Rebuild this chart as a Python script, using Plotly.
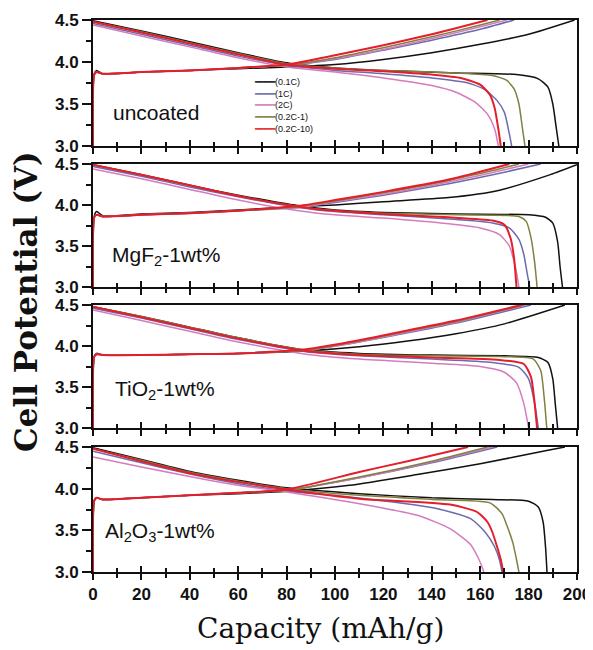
import plotly.graph_objects as go

# ---------------- series meta ----------------
SERIES = ["(0.1C)", "(1C)", "(2C)", "(0.2C-1)", "(0.2C-10)"]
COLORS = ["#111111", "#6b6bb0", "#d47cbc", "#808040", "#e41e2b"]
WIDTHS = [1.5, 1.5, 1.5, 1.5, 2.0]
PANEL_LABELS = ["uncoated", "MgF<sub>2</sub>-1wt%", "TiO<sub>2</sub>-1wt%",
                "Al<sub>2</sub>O<sub>3</sub>-1wt%"]
X_TICKS = [0, 20, 40, 60, 80, 100, 120, 140, 160, 180, 200]
Y_TICKS = [3.0, 3.5, 4.0, 4.5]

# ---------------- uncoated ----------------
UNC_C01_DIS_X = [0, 20, 40, 60, 80, 100, 120, 150, 175, 184, 188, 190, 191.5, 192.5]
UNC_C01_DIS_Y = [4.49, 4.37, 4.24, 4.11, 3.99, 3.93, 3.90, 3.87, 3.85, 3.80, 3.70, 3.50, 3.20, 3.00]
UNC_1C_DIS_X = [0, 20, 40, 60, 80, 100, 120, 140, 155, 162, 167, 170, 172, 173]
UNC_1C_DIS_Y = [4.46, 4.33, 4.20, 4.07, 3.96, 3.90, 3.86, 3.81, 3.75, 3.67, 3.54, 3.40, 3.15, 3.00]
UNC_2C_DIS_X = [0, 20, 40, 60, 80, 100, 120, 140, 150, 158, 163, 166, 167.5]
UNC_2C_DIS_Y = [4.44, 4.31, 4.18, 4.05, 3.94, 3.88, 3.81, 3.72, 3.64, 3.52, 3.38, 3.20, 3.00]
UNC_C21_DIS_X = [0, 20, 40, 60, 80, 100, 120, 150, 165, 171, 174, 176, 177.5, 178.5]
UNC_C21_DIS_Y = [4.48, 4.36, 4.23, 4.10, 3.98, 3.93, 3.90, 3.87, 3.84, 3.78, 3.68, 3.50, 3.20, 3.00]
UNC_C210_DIS_X = [0, 20, 40, 60, 80, 100, 120, 140, 152, 160, 164, 166, 167.5, 168.5]
UNC_C210_DIS_Y = [4.48, 4.35, 4.22, 4.09, 3.97, 3.92, 3.89, 3.85, 3.81, 3.73, 3.61, 3.45, 3.20, 3.00]

UNC_C01_CHG_X = [0, 0.5, 1.5, 4, 20, 40, 60, 80, 100, 120, 140, 160, 180, 199]
UNC_C01_CHG_Y = [3.00, 3.86, 3.90, 3.86, 3.88, 3.90, 3.92, 3.94, 3.97, 4.03, 4.11, 4.21, 4.33, 4.50]
UNC_1C_CHG_X = [0, 0.5, 1.5, 4, 20, 40, 60, 80, 100, 120, 140, 160, 174]
UNC_1C_CHG_Y = [3.00, 3.85, 3.88, 3.86, 3.88, 3.90, 3.93, 3.96, 4.03, 4.14, 4.26, 4.39, 4.50]
UNC_2C_CHG_X = [0, 0.5, 1.5, 4, 20, 40, 60, 80, 100, 120, 140, 160, 171]
UNC_2C_CHG_Y = [3.00, 3.85, 3.88, 3.86, 3.88, 3.90, 3.93, 3.96, 4.04, 4.15, 4.28, 4.42, 4.50]
UNC_C21_CHG_X = [0, 0.5, 1.5, 4, 20, 40, 60, 80, 100, 120, 140, 160, 168]
UNC_C21_CHG_Y = [3.00, 3.85, 3.88, 3.86, 3.88, 3.90, 3.93, 3.96, 4.05, 4.17, 4.30, 4.44, 4.50]
UNC_C210_CHG_X = [0, 0.5, 1.5, 4, 20, 40, 60, 80, 100, 120, 140, 163]
UNC_C210_CHG_Y = [3.00, 3.85, 3.88, 3.86, 3.88, 3.90, 3.93, 3.97, 4.08, 4.20, 4.33, 4.50]

# ---------------- MgF2 ----------------
MGF_C01_DIS_X = [0, 20, 40, 60, 85, 100, 120, 150, 180, 187, 190, 192, 193, 194]
MGF_C01_DIS_Y = [4.49, 4.37, 4.24, 4.12, 3.99, 3.94, 3.91, 3.89, 3.88, 3.85, 3.78, 3.55, 3.25, 3.00]
MGF_1C_DIS_X = [0, 20, 40, 60, 85, 100, 120, 147, 165, 172, 176, 178, 179.5, 180.5]
MGF_1C_DIS_Y = [4.47, 4.35, 4.22, 4.10, 3.97, 3.92, 3.88, 3.83, 3.78, 3.72, 3.58, 3.40, 3.15, 3.00]
MGF_2C_DIS_X = [0, 20, 40, 60, 85, 100, 120, 147, 160, 168, 172, 174.5, 176]
MGF_2C_DIS_Y = [4.44, 4.32, 4.19, 4.06, 3.93, 3.88, 3.84, 3.77, 3.72, 3.64, 3.50, 3.25, 3.00]
MGF_C21_DIS_X = [0, 20, 40, 60, 85, 100, 120, 150, 176, 179, 181, 182.5, 183.5]
MGF_C21_DIS_Y = [4.49, 4.37, 4.24, 4.11, 3.98, 3.93, 3.90, 3.88, 3.86, 3.80, 3.60, 3.30, 3.00]
MGF_C210_DIS_X = [0, 20, 40, 60, 85, 100, 120, 147, 165, 170, 172.5, 174, 175]
MGF_C210_DIS_Y = [4.49, 4.37, 4.24, 4.11, 3.98, 3.93, 3.89, 3.85, 3.81, 3.76, 3.60, 3.35, 3.00]

MGF_C01_CHG_X = [0, 0.5, 1.5, 4, 20, 40, 60, 85, 100, 120, 147, 168, 189, 200]
MGF_C01_CHG_Y = [3.00, 3.86, 3.92, 3.87, 3.89, 3.91, 3.94, 3.98, 4.00, 4.04, 4.09, 4.18, 4.37, 4.49]
MGF_1C_CHG_X = [0, 0.5, 1.5, 4, 20, 40, 60, 85, 100, 120, 147, 170, 185]
MGF_1C_CHG_Y = [3.00, 3.85, 3.88, 3.86, 3.88, 3.90, 3.93, 3.97, 4.03, 4.12, 4.26, 4.40, 4.50]
MGF_2C_CHG_X = [0, 0.5, 1.5, 4, 20, 40, 60, 85, 100, 120, 147, 170, 180]
MGF_2C_CHG_Y = [3.00, 3.85, 3.88, 3.86, 3.88, 3.90, 3.93, 3.97, 4.04, 4.13, 4.28, 4.43, 4.50]
MGF_C21_CHG_X = [0, 0.5, 1.5, 4, 20, 40, 60, 85, 100, 120, 147, 165, 176]
MGF_C21_CHG_Y = [3.00, 3.85, 3.88, 3.86, 3.88, 3.90, 3.93, 3.98, 4.05, 4.15, 4.30, 4.42, 4.50]
MGF_C210_CHG_X = [0, 0.5, 1.5, 4, 20, 40, 60, 85, 100, 120, 147, 172]
MGF_C210_CHG_Y = [3.00, 3.85, 3.88, 3.86, 3.88, 3.90, 3.93, 3.99, 4.06, 4.16, 4.31, 4.50]

# ---------------- TiO2 ----------------
TIO_C01_DIS_X = [0, 20, 40, 60, 88, 110, 140, 170, 184, 188, 190, 191, 192]
TIO_C01_DIS_Y = [4.48, 4.36, 4.23, 4.10, 3.95, 3.91, 3.89, 3.88, 3.86, 3.80, 3.60, 3.30, 3.00]
TIO_1C_DIS_X = [0, 20, 40, 60, 88, 110, 140, 165, 176, 180, 182.5, 184]
TIO_1C_DIS_Y = [4.46, 4.34, 4.21, 4.08, 3.93, 3.88, 3.84, 3.80, 3.74, 3.60, 3.30, 3.00]
TIO_2C_DIS_X = [0, 20, 40, 60, 88, 110, 140, 160, 170, 175, 178, 180]
TIO_2C_DIS_Y = [4.44, 4.31, 4.18, 4.05, 3.90, 3.84, 3.79, 3.75, 3.68, 3.55, 3.30, 3.00]
TIO_C21_DIS_X = [0, 20, 40, 60, 88, 110, 140, 170, 182, 185, 186.5, 187.5]
TIO_C21_DIS_Y = [4.48, 4.36, 4.23, 4.10, 3.95, 3.90, 3.88, 3.87, 3.84, 3.70, 3.35, 3.00]
TIO_C210_DIS_X = [0, 20, 40, 60, 88, 110, 140, 168, 178, 181, 182.5, 183.5]
TIO_C210_DIS_Y = [4.48, 4.35, 4.22, 4.09, 3.94, 3.89, 3.86, 3.83, 3.78, 3.62, 3.30, 3.00]

TIO_C01_CHG_X = [0, 0.5, 1.5, 4, 20, 40, 60, 88, 110, 130, 150, 170, 195]
TIO_C01_CHG_Y = [3.00, 3.87, 3.91, 3.89, 3.89, 3.90, 3.91, 3.94, 3.99, 4.06, 4.15, 4.27, 4.50]
TIO_1C_CHG_X = [0, 0.5, 1.5, 4, 20, 40, 60, 88, 110, 130, 150, 181]
TIO_1C_CHG_Y = [3.00, 3.87, 3.90, 3.89, 3.89, 3.90, 3.91, 3.95, 4.05, 4.16, 4.28, 4.50]
TIO_2C_CHG_X = [0, 0.5, 1.5, 4, 20, 40, 60, 88, 110, 130, 150, 179]
TIO_2C_CHG_Y = [3.00, 3.87, 3.90, 3.89, 3.89, 3.90, 3.91, 3.95, 4.05, 4.17, 4.29, 4.50]
TIO_C21_CHG_X = [0, 0.5, 1.5, 4, 20, 40, 60, 88, 110, 130, 150, 178]
TIO_C21_CHG_Y = [3.00, 3.87, 3.90, 3.89, 3.89, 3.90, 3.91, 3.95, 4.06, 4.18, 4.30, 4.50]
TIO_C210_CHG_X = [0, 0.5, 1.5, 4, 20, 40, 60, 88, 110, 130, 150, 177]
TIO_C210_CHG_Y = [3.00, 3.87, 3.90, 3.89, 3.89, 3.90, 3.91, 3.96, 4.07, 4.19, 4.31, 4.50]

# ---------------- Al2O3 ----------------
ALO_C01_DIS_X = [0, 20, 41, 60, 80, 110, 140, 165, 180, 184, 186, 187, 187.6]
ALO_C01_DIS_Y = [4.49, 4.35, 4.20, 4.10, 4.01, 3.94, 3.89, 3.87, 3.85, 3.78, 3.60, 3.30, 3.00]
ALO_1C_DIS_X = [0, 20, 41, 60, 80, 106, 140.5, 156, 162, 166, 168, 169]
ALO_1C_DIS_Y = [4.45, 4.31, 4.17, 4.06, 3.97, 3.90, 3.77, 3.64, 3.48, 3.30, 3.14, 3.00]
ALO_2C_DIS_X = [0, 20, 41, 60, 80, 106, 134, 147.5, 156, 159, 160.5, 161.5]
ALO_2C_DIS_Y = [4.38, 4.26, 4.14, 4.04, 3.96, 3.84, 3.68, 3.52, 3.33, 3.18, 3.08, 3.00]
ALO_C21_DIS_X = [0, 20, 41, 60, 80, 110, 140, 164, 169, 171, 173.5, 175, 176]
ALO_C21_DIS_Y = [4.48, 4.34, 4.19, 4.09, 4.00, 3.92, 3.87, 3.83, 3.70, 3.56, 3.35, 3.15, 3.00]
ALO_C210_DIS_X = [0, 20, 41, 60, 80, 110, 147.5, 158.7, 163, 165, 167, 168.5, 169.5]
ALO_C210_DIS_Y = [4.48, 4.33, 4.18, 4.08, 3.99, 3.88, 3.81, 3.72, 3.60, 3.48, 3.30, 3.15, 3.00]

ALO_C01_CHG_X = [0, 0.5, 1.5, 4, 20, 40, 60, 80, 106, 134, 160, 188, 195]
ALO_C01_CHG_Y = [3.00, 3.85, 3.89, 3.87, 3.89, 3.92, 3.94, 3.97, 4.04, 4.17, 4.30, 4.46, 4.50]
ALO_1C_CHG_X = [0, 0.5, 1.5, 4, 20, 40, 60, 80, 110, 140, 167]
ALO_1C_CHG_Y = [3.00, 3.85, 3.89, 3.87, 3.89, 3.92, 3.95, 3.98, 4.13, 4.31, 4.50]
ALO_2C_CHG_X = [0, 0.5, 1.5, 4, 20, 40, 60, 80, 110, 140, 165]
ALO_2C_CHG_Y = [3.00, 3.85, 3.89, 3.87, 3.89, 3.92, 3.95, 3.98, 4.13, 4.32, 4.50]
ALO_C21_CHG_X = [0, 0.5, 1.5, 4, 20, 40, 60, 80, 110, 140, 163]
ALO_C21_CHG_Y = [3.00, 3.85, 3.89, 3.87, 3.89, 3.92, 3.95, 3.98, 4.14, 4.33, 4.50]
ALO_C210_CHG_X = [0, 0.5, 1.5, 4, 20, 40, 60, 80, 110, 130, 155]
ALO_C210_CHG_Y = [3.00, 3.86, 3.89, 3.87, 3.89, 3.92, 3.95, 3.99, 4.20, 4.33, 4.50]

PANELS = [
    [(UNC_C01_DIS_X, UNC_C01_DIS_Y, UNC_C01_CHG_X, UNC_C01_CHG_Y),
     (UNC_1C_DIS_X, UNC_1C_DIS_Y, UNC_1C_CHG_X, UNC_1C_CHG_Y),
     (UNC_2C_DIS_X, UNC_2C_DIS_Y, UNC_2C_CHG_X, UNC_2C_CHG_Y),
     (UNC_C21_DIS_X, UNC_C21_DIS_Y, UNC_C21_CHG_X, UNC_C21_CHG_Y),
     (UNC_C210_DIS_X, UNC_C210_DIS_Y, UNC_C210_CHG_X, UNC_C210_CHG_Y)],
    [(MGF_C01_DIS_X, MGF_C01_DIS_Y, MGF_C01_CHG_X, MGF_C01_CHG_Y),
     (MGF_1C_DIS_X, MGF_1C_DIS_Y, MGF_1C_CHG_X, MGF_1C_CHG_Y),
     (MGF_2C_DIS_X, MGF_2C_DIS_Y, MGF_2C_CHG_X, MGF_2C_CHG_Y),
     (MGF_C21_DIS_X, MGF_C21_DIS_Y, MGF_C21_CHG_X, MGF_C21_CHG_Y),
     (MGF_C210_DIS_X, MGF_C210_DIS_Y, MGF_C210_CHG_X, MGF_C210_CHG_Y)],
    [(TIO_C01_DIS_X, TIO_C01_DIS_Y, TIO_C01_CHG_X, TIO_C01_CHG_Y),
     (TIO_1C_DIS_X, TIO_1C_DIS_Y, TIO_1C_CHG_X, TIO_1C_CHG_Y),
     (TIO_2C_DIS_X, TIO_2C_DIS_Y, TIO_2C_CHG_X, TIO_2C_CHG_Y),
     (TIO_C21_DIS_X, TIO_C21_DIS_Y, TIO_C21_CHG_X, TIO_C21_CHG_Y),
     (TIO_C210_DIS_X, TIO_C210_DIS_Y, TIO_C210_CHG_X, TIO_C210_CHG_Y)],
    [(ALO_C01_DIS_X, ALO_C01_DIS_Y, ALO_C01_CHG_X, ALO_C01_CHG_Y),
     (ALO_1C_DIS_X, ALO_1C_DIS_Y, ALO_1C_CHG_X, ALO_1C_CHG_Y),
     (ALO_2C_DIS_X, ALO_2C_DIS_Y, ALO_2C_CHG_X, ALO_2C_CHG_Y),
     (ALO_C21_DIS_X, ALO_C21_DIS_Y, ALO_C21_CHG_X, ALO_C21_CHG_Y),
     (ALO_C210_DIS_X, ALO_C210_DIS_Y, ALO_C210_CHG_X, ALO_C210_CHG_Y)],
]

# ---------------- layout geometry (pixels, in page coordinates) ----------------
PAGE_W, PAGE_H = 593, 650
BODY = 8  # default page margin around the plot div
W, H = PAGE_W - BODY, PAGE_H - BODY
PLOT_L, PLOT_R, PLOT_T, PLOT_B = 93, 577, 20, 572
ML, MT = PLOT_L - BODY, PLOT_T - BODY
MR, MB = PAGE_W - PLOT_R, PAGE_H - PLOT_B
PANEL_PX = [(20, 146), (164, 287), (305, 428), (447, 572)]
plot_h = PLOT_B - PLOT_T
plot_w = PLOT_R - PLOT_L


def frac_y(py):
    return (PLOT_B - py) / plot_h


def frac_x(px):
    return (px - PLOT_L) / plot_w


fig = go.Figure()
SANS = "Liberation Sans, Arial, sans-serif"
YTICKFONT = dict(family=SANS, size=17, color="#111", weight="bold")
XTICKFONT = dict(family=SANS, size=17, color="#111", weight="bold")

for p, panel in enumerate(PANELS):
    i = p + 1
    xa = "x" if i == 1 else f"x{i}"
    ya = "y" if i == 1 else f"y{i}"
    for s, (dx, dy, cx, cy) in enumerate(panel):
        for xs, ys in ((cx, cy), (dx, dy)):
            fig.add_trace(go.Scatter(
                x=xs, y=ys, mode="lines", xaxis=xa, yaxis=ya,
                line=dict(color=COLORS[s], width=WIDTHS[s], shape="spline", smoothing=0.6),
                showlegend=False, hoverinfo="skip", name=SERIES[s]))
    # invisible trace for the inside-tick overlay axis
    fig.add_trace(go.Scatter(x=[None], y=[None], xaxis=f"x{i + 4}", yaxis=ya,
                             showlegend=False, hoverinfo="skip"))

    top, bot = PANEL_PX[p]
    dom = [frac_y(bot), frac_y(top)]
    last = (i == 4)
    fig.layout[f"xaxis{i}" if i > 1 else "xaxis"] = dict(
        domain=[0, 1], anchor=ya, range=[0, 200], tickvals=X_TICKS,
        ticks="outside", ticklen=6, tickwidth=2, tickcolor="#111",
        minor=dict(dtick=10, ticks="outside", ticklen=4, tickwidth=2, tickcolor="#111"),
        showline=True, linewidth=2, linecolor="#111", mirror=True,
        showgrid=False, zeroline=False, showticklabels=last,
        ticklabeloverflow="allow", tickfont=XTICKFONT, fixedrange=True)
    fig.layout[f"xaxis{i + 4}"] = dict(
        domain=[0, 1], anchor=ya, overlaying=xa, range=[0, 200], tickvals=X_TICKS,
        ticks="inside", ticklen=6, tickwidth=2, tickcolor="#111",
        minor=dict(dtick=10, ticks="inside", ticklen=4, tickwidth=2, tickcolor="#111"),
        showline=False, showgrid=False, zeroline=False, showticklabels=False)
    fig.layout[f"yaxis{i}" if i > 1 else "yaxis"] = dict(
        domain=dom, anchor=xa, range=[3.0, 4.5], tickvals=Y_TICKS, tickformat=".1f",
        ticks="outside", ticklen=9, tickwidth=2, tickcolor="#111",
        minor=dict(dtick=0.25, ticks="outside", ticklen=5, tickwidth=2, tickcolor="#111"),
        showline=True, linewidth=2, linecolor="#111", mirror=True,
        showgrid=False, zeroline=False, tickfont=YTICKFONT, fixedrange=True)

# panel labels
LABEL_POS = [(7.5, 3.40), (7.0, 3.38), (8.3, 3.46), (4.1, 3.48)]
for p, lab in enumerate(PANEL_LABELS):
    i = p + 1
    fig.add_annotation(text=lab, x=LABEL_POS[p][0], y=LABEL_POS[p][1],
                       xref="x" if i == 1 else f"x{i}", yref="y" if i == 1 else f"y{i}",
                       xanchor="left", yanchor="middle", showarrow=False,
                       font=dict(family=SANS, size=21, color="#111"))

# legend (text-based, inside top panel)
leg_lines = [f"<span style='color:{c}'>━━━━</span>{n}" for n, c in zip(SERIES, COLORS)]
fig.add_annotation(text="<br>".join(leg_lines), xref="paper", yref="paper",
                   x=frac_x(252), y=frac_y(75), xanchor="left", yanchor="top",
                   align="left", showarrow=False,
                   font=dict(family=SANS, size=9, color="#111"))

# axis titles
fig.add_annotation(text="Cell Potential (V)", xref="paper", yref="paper",
                   x=frac_x(26), y=frac_y(302), textangle=-90, showarrow=False,
                   xanchor="center", yanchor="middle",
                   font=dict(family="DejaVu Serif, serif", size=31, color="#111", weight="bold"))
fig.add_annotation(text="Capacity (mAh/g)", xref="paper", yref="paper",
                   x=frac_x(320), y=frac_y(628), showarrow=False,
                   xanchor="center", yanchor="middle",
                   font=dict(family="DejaVu Serif, serif", size=28, color="#111"))

fig.update_layout(width=W, height=H, margin=dict(l=ML, r=MR, t=MT, b=MB, autoexpand=False),
                  paper_bgcolor="white", plot_bgcolor="white", showlegend=False)

fig.write_html("out.html")
